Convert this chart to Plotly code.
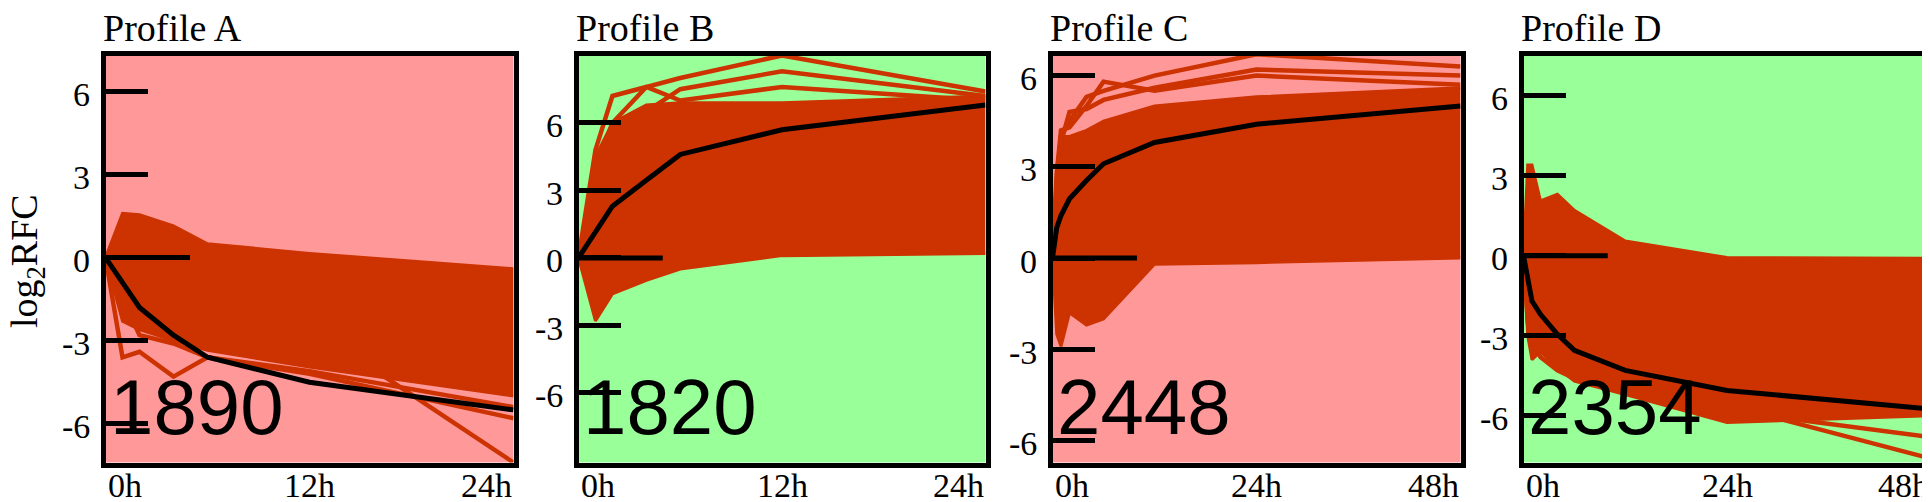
import plotly.graph_objects as go

# sampling times (hours)
TIMES_24H = [0, 1, 2, 4, 6, 12, 24]
TIMES_48H = [0, 0.5, 1, 2, 4, 6, 12, 24, 48]

PROFILE_NAMES = ["Profile A", "Profile B", "Profile C", "Profile D"]
GENE_COUNTS = ["1890", "1820", "2448", "2354"]

X_TICKS_24H = [0, 12, 24]
X_LABELS_24H = ["0h", "12h", "24h"]
X_TICKS_48H = [0, 24, 48]
X_LABELS_48H = ["0h", "24h", "48h"]

Y_TICKS = [-6, -3, 0, 3, 6]
Y_LABELS = ["-6", "-3", "0", "3", "6"]

# Profile A (down, 0-24h)
A_MEAN = [0, -0.9, -1.8, -2.8, -3.6, -4.5, -5.5]
A_UPPER = [0, 1.6, 1.55, 1.15, 0.5, 0.15, -0.4]
A_LOWER = [0, -2.3, -2.6, -3.0, -3.35, -3.95, -5.0]
A_OUTLIERS = [
    [0, -3.6, -3.4, -4.3, -3.6, -4.1, -5.4],
    [0, -1.0, -1.8, -2.3, -2.4, -2.5, -7.4],
    [0, -1.5, -2.8, -3.1, -3.6, -4.2, -5.8],
]

# Profile B (up, 0-24h)
B_MEAN = [0, 1.2, 2.3, 3.45, 4.6, 5.7, 6.8]
B_UPPER = [0, 4.5, 6.0, 6.8, 6.9, 6.9, 7.2]
B_LOWER = [0, -2.8, -1.6, -1.0, -0.5, 0.1, 0.2]
B_OUTLIERS = [
    [0, 4.0, 6.0, 7.6, 8.0, 9.0, 7.4],
    [0, 3.5, 5.5, 6.5, 7.5, 8.3, 7.2],
    [0, 4.8, 7.2, 7.6, 7.0, 7.6, 7.0],
]

# Profile C (up, 0-48h)
C_MEAN = [0, 1.0, 1.4, 1.95, 2.55, 3.1, 3.8, 4.4, 5.0]
C_UPPER = [0, 3.0, 4.0, 4.0, 4.2, 4.5, 5.0, 5.3, 5.6]
C_LOWER = [0, -2.5, -2.9, -1.8, -2.2, -2.0, -0.2, -0.15, 0.0]
C_OUTLIERS = [
    [0, 2.5, 4.0, 4.5, 5.3, 5.5, 6.0, 6.7, 6.3],
    [0, 2.0, 3.8, 4.8, 4.9, 5.2, 5.6, 6.2, 6.0],
    [0, 2.8, 4.2, 4.3, 5.0, 5.8, 5.5, 6.0, 5.7],
]

# Profile D (down, 0-48h)
D_MEAN = [0, -0.9, -1.7, -2.2, -2.95, -3.55, -4.3, -5.05, -5.75]
D_UPPER = [0, 3.4, 3.4, 2.05, 2.3, 1.7, 0.55, -0.07, -0.1]
D_LOWER = [0, -3.0, -3.9, -3.6, -4.2, -4.7, -5.2, -6.25, -6.0]
D_OUTLIERS = [
    [0, -2.0, -3.0, -3.5, -4.0, -4.5, -5.0, -5.6, -7.6],
    [0, -2.5, -3.2, -3.8, -4.3, -4.6, -5.1, -5.8, -6.8],
]

RED = "#CC3300"
PINK = "#FF9999"
GREEN = "#99FF99"
W, H = 1930, 502


def panel_specs():
    """Data + look of each of the four panels."""
    return [
        dict(t=TIMES_24H, mean=A_MEAN, up=A_UPPER, lo=A_LOWER, out=A_OUTLIERS,
             xt=X_TICKS_24H, xl=X_LABELS_24H, bg=PINK, yr=[-7.4, 7.3], px=(97.5, 505.5)),
        dict(t=TIMES_24H, mean=B_MEAN, up=B_UPPER, lo=B_LOWER, out=B_OUTLIERS,
             xt=X_TICKS_24H, xl=X_LABELS_24H, bg=GREEN, yr=[-9.1, 9.0], px=(570.5, 977.5)),
        dict(t=TIMES_48H, mean=C_MEAN, up=C_UPPER, lo=C_LOWER, out=C_OUTLIERS,
             xt=X_TICKS_48H, xl=X_LABELS_48H, bg=PINK, yr=[-6.72, 6.66], px=(1044.5, 1452.5)),
        dict(t=TIMES_48H, mean=D_MEAN, up=D_UPPER, lo=D_LOWER, out=D_OUTLIERS,
             xt=X_TICKS_48H, xl=X_LABELS_48H, bg=GREEN, yr=[-7.75, 7.5], px=(1515.5, 1922.5)),
    ]


def build_figure():
    fig = go.Figure()
    title_font = dict(family="Liberation Serif", size=38, color="black")
    tick_font = dict(family="Liberation Serif", size=34, color="black")
    y_dom = [1 - 454.5 / H, 1 - 47.5 / H]

    for i, p in enumerate(panel_specs()):
        n = "" if i == 0 else str(i + 1)
        xa, ya = "x" + n, "y" + n
        t = p["t"]

        # gene cloud: filled band between lower and upper envelope
        fig.add_trace(go.Scatter(x=t, y=p["lo"], mode="lines", xaxis=xa, yaxis=ya,
                                 line=dict(color=RED, width=3), showlegend=False))
        fig.add_trace(go.Scatter(x=t, y=p["up"], mode="lines", xaxis=xa, yaxis=ya,
                                 fill="tonexty", fillcolor=RED,
                                 line=dict(color=RED, width=3), showlegend=False))
        for o in p["out"]:
            fig.add_trace(go.Scatter(x=t, y=o, mode="lines", xaxis=xa, yaxis=ya,
                                     line=dict(color=RED, width=4.5), showlegend=False))
        # profile mean
        fig.add_trace(go.Scatter(x=t, y=p["mean"], mode="lines", xaxis=xa, yaxis=ya,
                                 line=dict(color="black", width=5), showlegend=False))

        x_dom = [p["px"][0] / W, p["px"][1] / W]
        fig.update_layout(**{
            "xaxis" + n: dict(domain=x_dom, range=[t[0], t[-1]], anchor=ya,
                              showline=True, mirror=True, linewidth=5, linecolor="black",
                              showgrid=False, zeroline=False, ticks="", showticklabels=False),
            "yaxis" + n: dict(domain=y_dom, range=p["yr"], anchor=xa,
                              showline=True, mirror=True, linewidth=5, linecolor="black",
                              showgrid=False, zeroline=False,
                              ticks="inside", ticklen=42, tickwidth=5, tickcolor="black",
                              tickvals=Y_TICKS, showticklabels=False),
        })

        # panel background
        fig.add_shape(type="rect", xref=xa + " domain", yref=ya + " domain",
                      x0=0, x1=1, y0=0, y1=1, fillcolor=p["bg"], line_width=0, layer="below")
        # longer tick at zero
        fig.add_shape(type="line", xref=xa + " domain", yref=ya, x0=0, x1=0.207, y0=0, y1=0,
                      line=dict(color="black", width=5), layer="above")

        # y tick labels, set off from the frame
        for v, lab in zip(Y_TICKS, Y_LABELS):
            fig.add_annotation(x=0, xref=xa + " domain", y=v, yref=ya, text=lab,
                               showarrow=False, xanchor="right", yanchor="middle",
                               xshift=-14, yshift=-3, font=tick_font)

        # x tick labels: first left-aligned, last right-aligned
        anchors = ["left", "center", "right"]
        for v, lab, anc in zip(p["xt"], p["xl"], anchors):
            fig.add_annotation(x=v, xref=xa, y=1 - 477 / H, yref="paper", text=lab,
                               showarrow=False, xanchor=anc, yanchor="middle", font=tick_font)

        fig.add_annotation(x=0, xref=xa + " domain", y=1, yref=ya + " domain",
                           text=PROFILE_NAMES[i], showarrow=False, xanchor="left",
                           yanchor="bottom", yshift=5, xshift=-5, font=title_font)
        fig.add_annotation(x=0, xref=xa + " domain", y=0, yref=ya + " domain",
                           text=GENE_COUNTS[i], showarrow=False, xanchor="left",
                           yanchor="bottom", xshift=2, yshift=10,
                           font=dict(family="Liberation Sans", size=78, color="black"))

    fig.add_annotation(x=19 / W, xref="paper", y=1 - 253 / H, yref="paper",
                       text="log<sub>2</sub>RFC", textangle=-90, showarrow=False,
                       xanchor="center", yanchor="middle", font=title_font)

    fig.update_layout(width=W, height=H, margin=dict(l=0, r=0, t=0, b=0),
                      paper_bgcolor="white", plot_bgcolor="white")
    return fig


def main():
    fig = build_figure()
    fig.write_html("out.html")


if __name__ == "__main__":
    main()
